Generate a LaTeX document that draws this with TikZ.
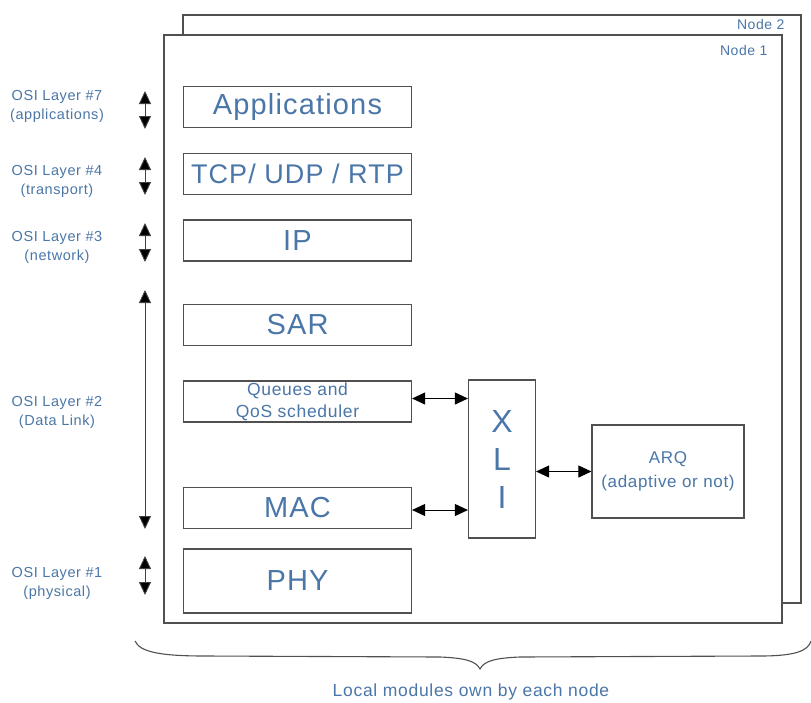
\documentclass[tikz,border=0pt]{standalone}
\usepackage{fontspec}
\setmainfont{Liberation Sans}[LetterSpace=4]
\usetikzlibrary{arrows.meta}
\definecolor{txtblue}{HTML}{4A76A8}
\definecolor{edge}{HTML}{505050}
\begin{document}
\begin{tikzpicture}[x=1pt,y=-1pt,
  frame/.style={draw=edge,line width=1.2pt,fill=white},
  layerbox/.style={draw=edge,line width=1.2pt,fill=white,minimum width=228pt,
    minimum height=41pt,inner sep=0pt,text=txtblue,font=\fontsize{29}{29}\selectfont},
  smallbox/.style={draw=edge,line width=1.2pt,fill=white,inner sep=0pt,
    text=txtblue,align=center},
  osilabel/.style={text=txtblue,align=center,font=\fontsize{14.5}{19}\selectfont},
  framelabel/.style={text=txtblue,anchor=east,font=\fontsize{14}{14}\selectfont},
  biarrow/.style={draw=black,line width=0.9pt,
    {Triangle[length=13pt,width=12pt]}-{Triangle[length=13pt,width=12pt]}},
  vbiarrow/.style={draw=black!75,line width=0.9pt,
    {Triangle[length=13pt,width=12pt,fill=black]}-{Triangle[length=13pt,width=12pt,fill=black]}}]

\useasboundingbox (0,0) rectangle (811,702);

% stacked node frames
\draw[frame] (183,15) rectangle (801,603);
\draw[frame] (164,35) rectangle (782,623);
\node[framelabel] (n2) at (788,24) {Node 2};
\node[framelabel] (n1) at (771,50) {Node 1};

% protocol stack
\node[layerbox] (app) at (297.5,107) {Applications};
\node[layerbox,font=\fontsize{27}{27}\selectfont] (tcp) at (297.5,174) {TCP/ UDP / RTP};
\node[layerbox] (ip)  at (297.5,240.5) {IP};
\node[layerbox] (sar) at (297.5,325) {SAR};
\node[layerbox,font=\fontsize{17.5}{22}\selectfont,align=center] (que) at (297.5,401.5)
  {Queues and\\QoS scheduler};
\node[layerbox] (mac) at (297.5,508) {MAC};
\node[layerbox,minimum height=64pt] (phy) at (297.5,581) {PHY};

% cross-layer interface and ARQ
\node[smallbox,minimum width=67pt,minimum height=158pt,
  font=\fontsize{32}{38}\selectfont] (xli) at (502,459) {X\\L\\I};
\node[smallbox,minimum width=152pt,minimum height=93pt,
  font=\fontsize{17}{24}\selectfont] (arq) at (668,471.5) {ARQ\\(adaptive or not)};

\coordinate (qa) at ([yshift=3pt]que.east);
\coordinate (ma) at ([yshift=-2pt]mac.east);
\draw[biarrow] (qa) -- (qa -| xli.west);
\draw[biarrow] (ma) -- (ma -| xli.west);
\draw[biarrow] (xli.east |- arq.west) -- (arq.west);

% OSI layer markers
\coordinate (l7t) at (145,91);  \coordinate (l7b) at (145,129);
\coordinate (l4t) at (145,157); \coordinate (l4b) at (145,195);
\coordinate (l3t) at (145,223); \coordinate (l3b) at (145,262);
\coordinate (l2t) at (145,290); \coordinate (l2b) at (145,529);
\coordinate (l1t) at (145,556); \coordinate (l1b) at (145,595);
\draw[vbiarrow] (l7t) -- (l7b);
\draw[vbiarrow] (l4t) -- (l4b);
\draw[vbiarrow] (l3t) -- (l3b);
\draw[vbiarrow] (l2t) -- (l2b);
\draw[vbiarrow] (l1t) -- (l1b);

\node[osilabel] (o7) at (57,106.5) {OSI Layer \#7\\(applications)};
\node[osilabel] (o4) at (57,181.5) {OSI Layer \#4\\(transport)};
\node[osilabel] (o3) at (57,247.5) {OSI Layer \#3\\(network)};
\node[osilabel] (o2) at (57,412) {OSI Layer \#2\\(Data Link)};
\node[osilabel] (o1) at (57,583) {OSI Layer \#1\\(physical)};

% brace under the frames
\draw[edge,line width=1.1pt]
  (135,641) .. controls (140,652) and (160,656) .. (205,656)
  -- (440,657) .. controls (465,658) and (476,661) .. (480,669)
  .. controls (484,661) and (495,658) .. (520,657)
  -- (760,656) .. controls (795,656) and (808,651) .. (811,641);
\node[text=txtblue,font=\fontsize{17.5}{17.5}\selectfont] (cap) at (471,692)
  {Local modules own by each node};
\end{tikzpicture}
\end{document}
